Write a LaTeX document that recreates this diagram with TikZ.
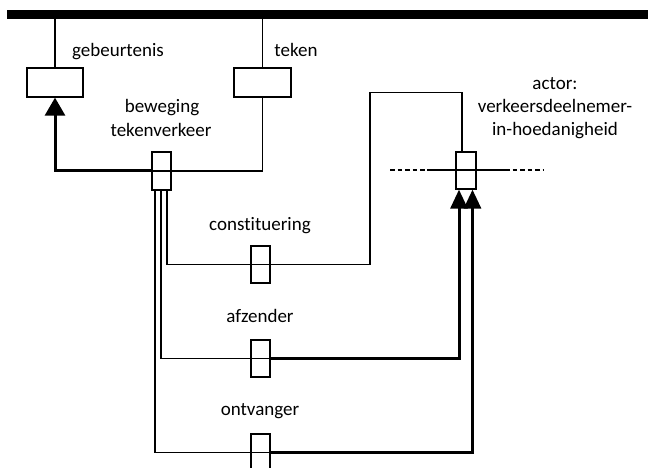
\documentclass[tikz,border=0pt]{standalone}
\usepackage{fontspec}
\setmainfont{Carlito}[Ligatures={NoCommon,NoRequired,NoContextual}]
\usetikzlibrary{arrows.meta}
\begin{document}
\begin{tikzpicture}[x=1pt,y=-1pt,
  thinline/.style={line width=1.3pt},
  thickline/.style={line width=3pt},
  bigbox/.style={draw,line width=1.3pt,rectangle,inner sep=0pt,minimum width=56pt,minimum height=29pt},
  smallbox/.style={draw,line width=1.3pt,rectangle,inner sep=0pt,minimum width=19pt,minimum height=37pt},
  lbl/.style={font=\fontsize{19}{23}\selectfont,inner sep=0pt,anchor=base},
  arrA/.style={-{Triangle[width=20pt,length=18pt]}},
  arrB/.style={-{Triangle[width=17pt,length=19pt]}}]
\useasboundingbox (0,0) rectangle (648,468);
% bar
\coordinate (barL) at (7,14.5);
\coordinate (barR) at (648,14.5);
\draw[line width=9pt] (barL) -- (barR);
% boxes
\node[bigbox] (geb) at (55,82.5) {};
\node[bigbox,minimum width=57pt] (tek) at (262.5,82.5) {};
\node[smallbox,minimum height=38pt] (B) at (161.5,171) {};
\node[smallbox] (C) at (260.5,264.5) {};
\node[smallbox] (A) at (260.5,358.5) {};
\node[smallbox] (O) at (260.5,452.5) {};
\node[smallbox,minimum width=20pt] (X) at (466,170.5) {};
% labels
\node[lbl] (tgeb) at (118,57) {gebeurtenis};
\node[lbl] (ttek) at (296,57) {teken};
\node[lbl] (tbew) at (162,113) {beweging};
\node[lbl] (ttv) at (161,137) {tekenverkeer};
\node[lbl] (tcon) at (260,230) {constituering};
\node[lbl] (tafz) at (260,322) {afzender};
\node[lbl] (tont) at (260,415.5) {ontvanger};
\node[lbl] (tact1) at (555,90) {actor:};
\node[lbl] (tact2) at (555,113) {verkeersdeelnemer-};
\node[lbl] (tact3) at (555,136) {in-hoedanigheid};
% connectors from bar
\draw[thinline] (barL -| geb.north) -- (geb.north);
\draw[thinline] (barL -| tek.north) -- (tek.north);
% teken to beweging
\draw[thinline] (tek.south) |- (B.west);
\draw[thickline,arrA] (B.west) -| (geb.south);
% constituering
\coordinate (k1) at (370,92.7);
\draw[thinline] ([xshift=5.5pt]B.south) |- (C.east) -| (k1) -| ([xshift=-4pt]X.north);
% afzender
\draw[thinline] ([xshift=-0.5pt]B.south) |- (A.east);
\draw[thickline,arrB] (A.east) -| ([xshift=-7pt]X.south);
% ontvanger
\draw[thinline] ([xshift=-6.5pt]B.south) |- (O.east);
\draw[thickline,arrB] (O.east) -| ([xshift=6.5pt]X.south);
% dashed line through actor
\coordinate (d1) at (390,170);
\coordinate (d2) at (427,170);
\coordinate (d3) at (505,170);
\coordinate (d4) at (543,170);
\draw[thinline,dash pattern=on 4.5pt off 3pt] (d1) -- (d2);
\draw[thinline] (d2) -- (d3);
\draw[thinline,dash pattern=on 4.5pt off 3pt] (d3) -- (d4);
\end{tikzpicture}
\end{document}
